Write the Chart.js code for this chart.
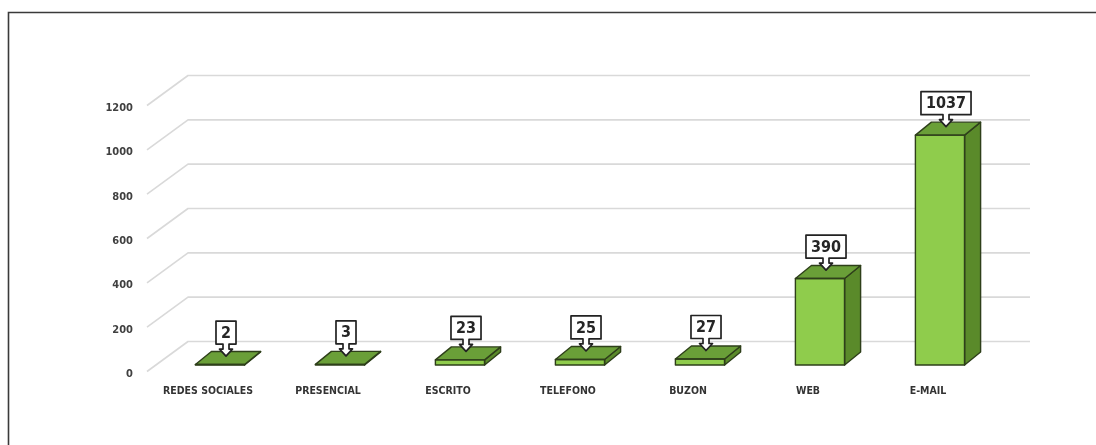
<!DOCTYPE html>
<html>
<head>
<meta charset="utf-8">
<script src="https://cdn.jsdelivr.net/npm/chart.js@4.4.1/dist/chart.umd.min.js"></script>
<style>
  html, body { margin: 0; padding: 0; background: #ffffff; overflow: hidden; }
  #wrap { width: 1096px; height: 445px; position: relative; }
</style>
</head>
<body>
<div id="wrap"><canvas id="chart" width="1096" height="445"></canvas></div>
<script>
// Solicitudes recibidas por canal
const categories = ['REDES SOCIALES', 'PRESENCIAL', 'ESCRITO', 'TELEFONO', 'BUZON', 'WEB', 'E-MAIL'];
const solicitudes = [2, 3, 23, 25, 27, 390, 1037];
const yTickValues = [0, 200, 400, 600, 800, 1000, 1200];

const FONT = "'Liberation Sans Narrow', 'DejaVu Sans Condensed', 'Open Sans', sans-serif";

// Pseudo-3D geometry (pixels) relative to the plane of the bar fronts
const DEPTH = {
  barDx: 16, barDy: -13,        // bar thickness going back
  backDx: 28, backDy: -23.5,    // back wall of the plot
  frontDx: -13, frontDy: 6.5,   // front edge of the floor
  wallInsetLeft: 0, wallInsetRight: 2
};
const COLORS = {
  front: '#8FCC4C',
  side: '#5A8A2A',
  top: '#6A9F38',
  edge: '#2E3F1A',
  grid: '#D9D9D9',
  frame: '#3A3A3A'
};

const depthPlugin = {
  id: 'depthPlugin',
  beforeDraw(chart) {
    const ctx = chart.ctx;
    ctx.save();
    ctx.fillStyle = '#ffffff';
    ctx.fillRect(0, 0, chart.width, chart.height);
    // outer frame (top and left edges)
    ctx.strokeStyle = COLORS.frame;
    ctx.lineWidth = 1.6;
    ctx.beginPath();
    ctx.moveTo(8.5, chart.height);
    ctx.lineTo(8.5, 12.5);
    ctx.lineTo(chart.width, 12.5);
    ctx.stroke();
    ctx.restore();
  },
  beforeDatasetsDraw(chart) {
    const { ctx, chartArea: a, scales: { y } } = chart;
    const left = a.left + DEPTH.wallInsetLeft;
    const right = a.right + DEPTH.wallInsetRight;
    ctx.save();
    ctx.strokeStyle = COLORS.grid;
    ctx.lineWidth = 1.6;
    ctx.lineJoin = 'round';
    y.ticks.forEach(t => {
      const py = y.getPixelForValue(t.value);
      ctx.beginPath();
      ctx.moveTo(left + DEPTH.frontDx, py + DEPTH.frontDy);
      ctx.lineTo(left + DEPTH.backDx, py + DEPTH.backDy);
      ctx.lineTo(right + DEPTH.backDx, py + DEPTH.backDy);
      ctx.stroke();
    });
    ctx.restore();
  },
  afterDatasetsDraw(chart) {
    const { ctx } = chart;
    const meta = chart.getDatasetMeta(0);
    const values = chart.data.datasets[0].data;
    const dx = DEPTH.barDx, dy = DEPTH.barDy;
    ctx.save();
    ctx.lineJoin = 'round';
    ctx.lineWidth = 1.4;
    ctx.strokeStyle = COLORS.edge;
    meta.data.forEach((bar) => {
      const L = bar.x - bar.width / 2;
      const R = bar.x + bar.width / 2;
      const T = bar.y;
      const B = bar.base;
      // right side face
      ctx.beginPath();
      ctx.moveTo(R, T);
      ctx.lineTo(R + dx, T + dy);
      ctx.lineTo(R + dx, B + dy);
      ctx.lineTo(R, B);
      ctx.closePath();
      ctx.fillStyle = COLORS.side;
      ctx.fill();
      ctx.stroke();
      // top face
      ctx.beginPath();
      ctx.moveTo(L, T);
      ctx.lineTo(L + dx, T + dy);
      ctx.lineTo(R + dx, T + dy);
      ctx.lineTo(R, T);
      ctx.closePath();
      ctx.fillStyle = COLORS.top;
      ctx.fill();
      ctx.stroke();
      // front face outline
      ctx.strokeRect(L, T, R - L, B - T);
    });

    // value callouts (down-arrow shaped)
    ctx.font = 'bold 16px ' + FONT;
    ctx.textAlign = 'center';
    ctx.textBaseline = 'middle';
    meta.data.forEach((bar, i) => {
      const txt = String(values[i]);
      const tipX = bar.x + dx / 2 - 2;
      const tipY = bar.y + dy / 2 - 2;
      const tw = ctx.measureText(txt).width;
      const w = Math.max(20, tw + 10);
      const h = 23;
      const stemW = 6, stemH = 5, headW = 13, headH = 7;
      const boxBottom = tipY - stemH - headH;
      const boxTop = boxBottom - h;
      const bl = tipX - w / 2, br = tipX + w / 2;
      ctx.beginPath();
      ctx.moveTo(bl, boxTop);
      ctx.lineTo(br, boxTop);
      ctx.lineTo(br, boxBottom);
      ctx.lineTo(tipX + stemW / 2, boxBottom);
      ctx.lineTo(tipX + stemW / 2, boxBottom + stemH);
      ctx.lineTo(tipX + headW / 2, boxBottom + stemH);
      ctx.lineTo(tipX, tipY);
      ctx.lineTo(tipX - headW / 2, boxBottom + stemH);
      ctx.lineTo(tipX - stemW / 2, boxBottom + stemH);
      ctx.lineTo(tipX - stemW / 2, boxBottom);
      ctx.lineTo(bl, boxBottom);
      ctx.closePath();
      ctx.fillStyle = '#ffffff';
      ctx.fill();
      ctx.lineWidth = 1.7;
      ctx.strokeStyle = '#222222';
      ctx.stroke();
      ctx.fillStyle = '#262626';
      ctx.fillText(txt, tipX, boxTop + h / 2 + 1);
    });
    ctx.restore();
  }
};

new Chart(document.getElementById('chart'), {
  type: 'bar',
  data: {
    labels: categories,
    datasets: [{
      data: solicitudes,
      backgroundColor: COLORS.front,
      borderColor: COLORS.edge,
      borderWidth: 0,
      categoryPercentage: 1,
      barPercentage: 0.41
    }]
  },
  options: {
    responsive: false,
    devicePixelRatio: 1,
    animation: false,
    events: [],
    layout: { padding: { top: 99, right: 96, bottom: 0, left: 0 } },
    plugins: {
      legend: { display: false },
      tooltip: { enabled: false },
      title: { display: false }
    },
    scales: {
      x: {
        type: 'category',
        grid: { display: false, drawTicks: false },
        border: { display: false },
        ticks: {
          autoSkip: false,
          maxRotation: 0,
          padding: 20,
          labelOffset: -12,
          color: '#333333',
          font: { family: FONT, size: 10.5, weight: 'bold' }
        },
        afterFit(scale) { scale.height = 80; }
      },
      y: {
        min: 0,
        max: 1200,
        afterBuildTicks(scale) { scale.ticks = yTickValues.map(v => ({ value: v })); },
        grid: { display: false, drawTicks: false },
        border: { display: false },
        ticks: {
          padding: 27,
          labelOffset: 9,
          color: '#404040',
          font: { family: FONT, size: 11, weight: 'bold' },
          callback: (value) => String(value)
        },
        afterFit(scale) { scale.width = 160; }
      }
    }
  },
  plugins: [depthPlugin]
});
</script>
</body>
</html>
